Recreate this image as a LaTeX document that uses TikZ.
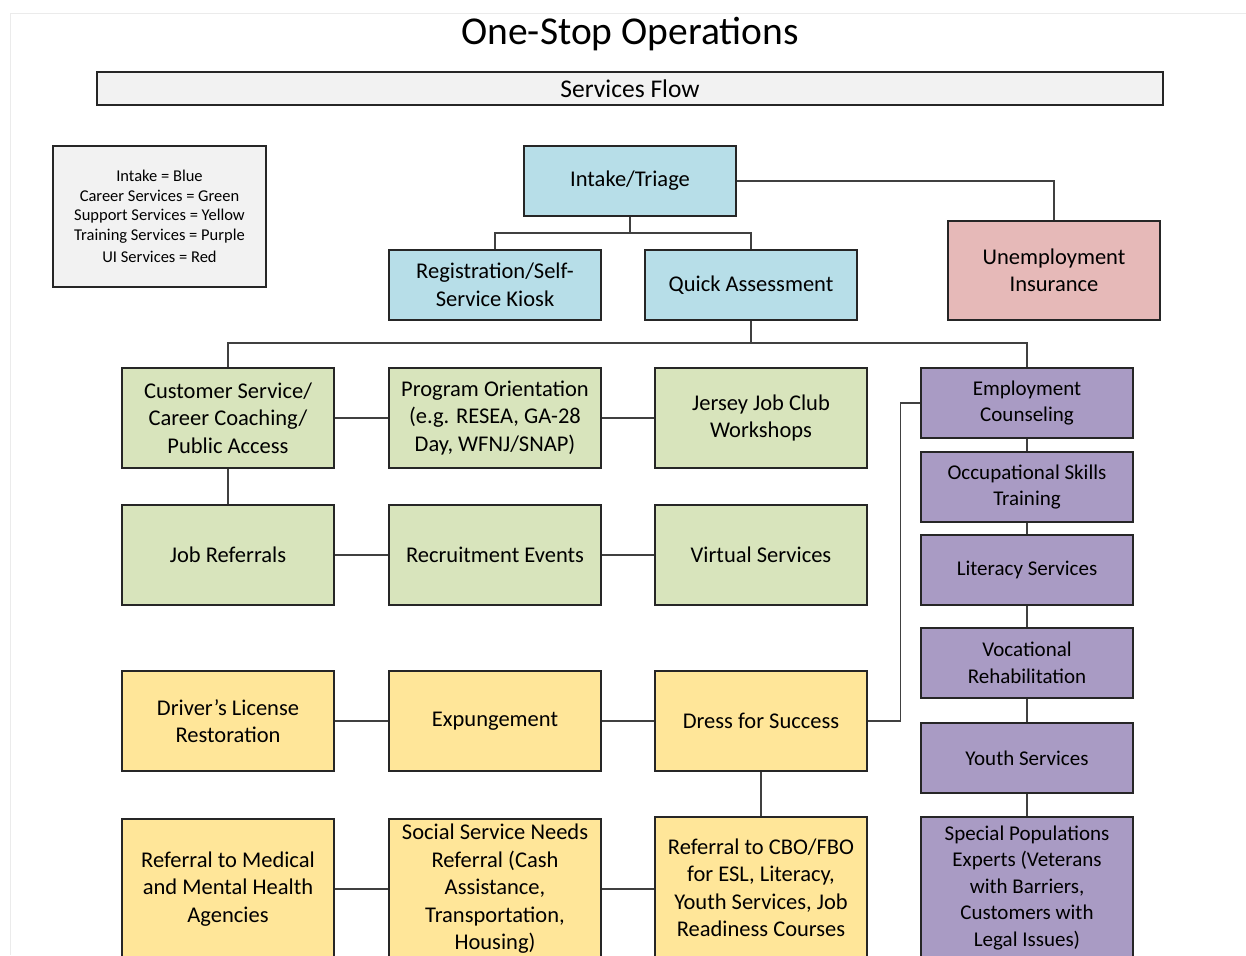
\documentclass[tikz,border=0pt]{standalone}
\usepackage{fontspec}
\setmainfont{Carlito}
\usetikzlibrary{positioning}

\definecolor{intakeblue}{HTML}{B7DEE8}
\definecolor{careergreen}{HTML}{D8E4BC}
\definecolor{supportyellow}{HTML}{FFE699}
\definecolor{trainpurple}{HTML}{A99BC4}
\definecolor{uired}{HTML}{E6B9B8}
\definecolor{panelgray}{HTML}{F2F2F2}

\begin{document}
\begin{tikzpicture}[x=1pt, y=-1pt,
        box/.style={draw=black!85, line width=2.2pt, minimum width=212pt, align=center,
            inner sep=2pt, font=\fontsize{22.5}{27.5}\selectfont},
        intake/.style={box, fill=intakeblue, minimum height=70pt},
        career/.style={box, fill=careergreen, minimum height=100pt},
        support/.style={box, fill=supportyellow, minimum height=100pt},
        training/.style={box, fill=trainpurple, minimum height=70pt, font=\fontsize{21}{26.5}\selectfont},
        uibox/.style={box, fill=uired, minimum height=99pt},
        link/.style={draw=black!75, line width=1.2pt}]

        % Page frame
        \useasboundingbox (0,0) rectangle (1246,955);
        \draw[black!8, line width=1pt] (10,955) -- (10,14) -- (1246,14);

        % Title and banner
        \node (title) at (630,34) {\fontsize{39.5}{46}\selectfont One-Stop Operations};
        \node[draw=black!85, line width=2.2pt, fill=panelgray, minimum width=1066pt, minimum height=33pt,
            font=\fontsize{25.5}{28}\selectfont] (banner) at (630,88.5) {Services Flow};

        % Colour legend
        \node[draw=black!85, line width=2.2pt, fill=panelgray, minimum width=213pt, minimum height=141pt,
            align=center, font=\fontsize{16.5}{19.6}\selectfont] (legend) at (159.5,216.5)
            {Intake = Blue\\ Career Services = Green\\ Support Services = Yellow\\
             Training Services = Purple\\[3pt] UI Services = Red};

        % Intake (blue) and UI (red)
        \node[intake] (triage) at (630,181) {Intake/Triage};
        \node[intake] (kiosk) at (495,285) {Registration/Self-\\Service Kiosk};
        \node[intake] (quick) at (751,285) {Quick Assessment};
        \node[uibox] (ui) at (1054,270.5) {Unemployment\\Insurance};

        % Career services (green)
        \node[career] (coaching) at (228,418) {Customer Service/\\Career Coaching/\\Public Access};
        \node[career] (orient) at (495,418) {Program Orientation\\(e.g. RESEA, GA-28\\Day, WFNJ/SNAP)};
        \node[career] (jobclub) at (761,418) {Jersey Job Club\\Workshops};
        \node[career] (jobref) at (228,555) {Job Referrals};
        \node[career] (recruit) at (495,555) {Recruitment Events};
        \node[career] (virtual) at (761,555) {Virtual Services};

        % Support services (yellow)
        \node[support] (license) at (228,721) {Driver’s License\\Restoration};
        \node[support] (expunge) at (495,721) {Expungement};
        \node[support] (dress) at (761,721) {Dress for Success};
        \node[support, minimum height=140pt] (medical) at (228,889) {Referral to Medical\\and Mental Health\\Agencies};
        \node[support, minimum height=140pt] (social) at (495,889) {Social Service Needs\\Referral (Cash\\Assistance,\\Transportation,\\Housing)};
        \node[support, minimum height=142pt] (cbo) at (761,888) {Referral to CBO/FBO\\for ESL, Literacy,\\Youth Services, Job\\Readiness Courses};

        % Training services (purple)
        \node[training] (counsel) at (1027,403) {Employment\\Counseling};
        \node[training] (occskills) at (1027,487) {Occupational Skills\\Training};
        \node[training] (literacy) at (1027,570) {Literacy Services};
        \node[training] (vocrehab) at (1027,663) {Vocational\\Rehabilitation};
        \node[training] (youth) at (1027,758) {Youth Services};
        \node[training, minimum height=142pt] (special) at (1027,888) {Special Populations\\Experts (Veterans\\with Barriers,\\Customers with\\Legal Issues)};

        % Connectors
        \coordinate (intakesplit) at (630,233);
        \coordinate (careersplit) at (751,343);
        \draw[link] (triage.south) -- (intakesplit);
        \draw[link] (kiosk.north) |- (intakesplit) -| (quick.north);
        \draw[link] (triage.east) -| (ui.north);
        \draw[link] (quick.south) -- (careersplit);
        \draw[link] (coaching.north) |- (careersplit) -| (counsel.north);

        \draw[link] (coaching.east) -- (orient.west);
        \draw[link] (orient.east) -- (jobclub.west);
        \draw[link] (coaching.south) -- (jobref.north);
        \draw[link] (jobref.east) -- (recruit.west);
        \draw[link] (recruit.east) -- (virtual.west);

        \draw[link] (license.east) -- (expunge.west);
        \draw[link] (expunge.east) -- (dress.west);
        \draw[link] (dress.south) -- (cbo.north);
        \draw[link] (medical.east) -- (social.west);
        \draw[link] (social.east) -- (social.east -| cbo.west);
        \draw[link] (dress.east) -- ++(32,0) |- (counsel.west);

        \draw[link] (counsel.south) -- (occskills.north);
        \draw[link] (occskills.south) -- (literacy.north);
        \draw[link] (literacy.south) -- (vocrehab.north);
        \draw[link] (vocrehab.south) -- (youth.north);
        \draw[link] (youth.south) -- (special.north);

    \end{tikzpicture}
\end{document}
